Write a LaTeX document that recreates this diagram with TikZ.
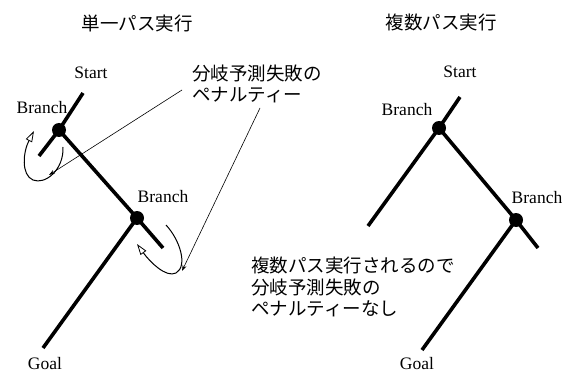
\documentclass[tikz,border=0pt]{standalone}
\usepackage{fontspec}
\setmainfont{Liberation Serif}
\newfontfamily\jafont{Noto Sans CJK JP}
\usetikzlibrary{arrows.meta}
\begin{document}
\begin{tikzpicture}[x=1pt,y=-1pt,
  lbl/.style={font=\fontsize{17.5}{20}\selectfont, inner sep=0pt},
  jlbl/.style={font=\jafont\fontsize{18.5}{21.7}\selectfont, inner sep=0pt},
  path/.style={line width=3.6pt},
  dot/.style={circle, fill=black, inner sep=0pt, minimum size=14pt},
  note/.style={line width=0.6pt, -{Stealth[length=6pt,width=4pt]}},
  loop/.style={line width=1pt, -{Triangle[open,length=11pt,width=7pt,line width=0.8pt]}}]
\useasboundingbox (0,0) rectangle (572,374);
% ---------- left: single path ----------
\node[jlbl] (t1) at (137,23) {単一パス実行};
\node[lbl] (st1) at (91,73) {Start};
\node[lbl] (br1l) at (42,108) {Branch};
\node[lbl] (br2l) at (163,197) {Branch};
\node[lbl] (g1l) at (45,364) {Goal};
\coordinate (s1) at (83,93);
\coordinate (x1) at (39,156);
\coordinate (x2) at (163,248);
\coordinate (g1) at (43,348);
\node[dot] (b1) at (59,130) {};
\node[dot] (b2) at (137,218) {};
\draw[path] (s1) -- (b1.center) -- (x1);
\draw[path] (b1.center) -- (b2.center) -- (x2);
\draw[path] (b2.center) -- (g1);
\coordinate (c1s) at (63,147);
\coordinate (c1m) at (33,180);
\coordinate (c1e) at (34,131);
\draw[loop] (c1s) .. controls (64,170) and (45,185) .. (c1m) .. controls (21,175) and (23,152) .. (c1e);
\coordinate (c2s) at (166,225);
\coordinate (c2m) at (176,273);
\coordinate (c2e) at (137,244);
\draw[loop] (c2s) .. controls (180,240) and (188,266) .. (c2m) .. controls (166,278) and (150,262) .. (c2e);
\node[jlbl, anchor=west, align=left] (pen) at (192,84) {分岐予測失敗の\\ペナルティー};
\coordinate (p1) at (182,90);
\coordinate (p1e) at (49,175);
\coordinate (p2) at (260,108);
\coordinate (p2e) at (182,271);
\draw[note] (p1) -- (p1e);
\draw[note] (p2) -- (p2e);
% ---------- right: multi path ----------
\node[jlbl] (t2) at (441,22) {複数パス実行};
\node[lbl] (st2) at (460,72) {Start};
\node[lbl] (br3l) at (407,110) {Branch};
\node[lbl] (br4l) at (537,198) {Branch};
\node[lbl] (g2l) at (417,364) {Goal};
\coordinate (s2) at (460,97);
\coordinate (y1) at (368,226);
\coordinate (y2) at (538,248);
\coordinate (g2) at (422,350);
\node[dot] (b3) at (439,128) {};
\node[dot] (b4) at (516,220) {};
\draw[path] (s2) -- (b3.center) -- (y1);
\draw[path] (b3.center) -- (b4.center) -- (y2);
\draw[path] (b4.center) -- (g2);
\node[jlbl, anchor=west, align=left] (nopen) at (251,287) {複数パス実行されるので\\分岐予測失敗の\\ペナルティーなし};
\end{tikzpicture}
\end{document}
